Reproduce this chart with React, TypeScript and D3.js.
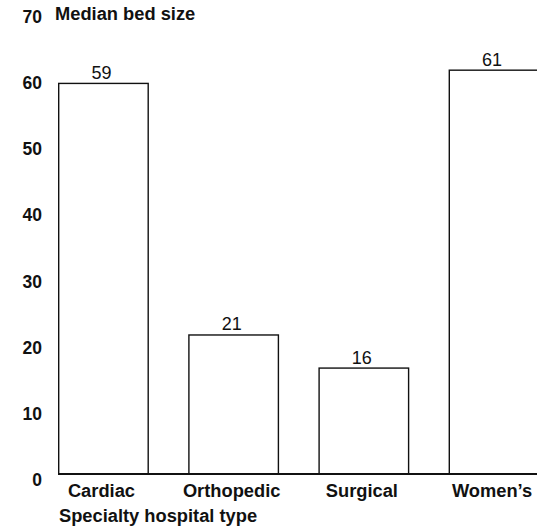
import React, { useEffect, useRef } from 'react';
import * as d3 from 'd3';

// Chart data
const categories = ['Cardiac', 'Orthopedic', 'Surgical', 'Women\u2019s'];
const bedSizes = [59, 21, 16, 61];
const yTicks = [0, 10, 20, 30, 40, 50, 60, 70];

const App: React.FC = () => {
  const svgRef = useRef<SVGSVGElement | null>(null);

  useEffect(() => {
    const svg = d3.select(svgRef.current);
    svg.selectAll('*').remove();

    const width = 537;
    const height = 529;
    const font = 'Liberation Sans, Arial, Helvetica, sans-serif';

    // band scale for the four hospital types
    const x = d3
      .scaleBand<string>()
      .domain(categories)
      .range([58.7, 538.8])
      .paddingInner(0.3126)
      .paddingOuter(0);

    const y = d3.scaleLinear().domain([0, 70]).range([474, 10.6]);

    svg.attr('width', width).attr('height', height);

    // y tick labels (no axis line)
    svg
      .append('g')
      .selectAll('text')
      .data(yTicks)
      .join('text')
      .attr('x', 42)
      .attr('y', d => y(d) + 6)
      .attr('dy', '0.35em')
      .attr('text-anchor', 'end')
      .attr('font-family', font)
      .attr('font-weight', 'bold')
      .attr('font-size', 17.5)
      .attr('fill', '#111')
      .text(d => d);

    // bars
    const data = categories.map((c, i) => ({ c, v: bedSizes[i] }));
    svg
      .append('g')
      .selectAll('rect')
      .data(data)
      .join('rect')
      .attr('x', d => x(d.c) as number)
      .attr('y', d => y(d.v))
      .attr('width', x.bandwidth())
      .attr('height', d => y(0) - y(d.v))
      .attr('fill', 'white')
      .attr('stroke', '#111')
      .attr('stroke-width', 1.4);

    // value labels above bars
    svg
      .append('g')
      .selectAll('text')
      .data(data)
      .join('text')
      .attr('x', d => (x(d.c) as number) + x.bandwidth() / 2 - 2)
      .attr('y', d => y(d.v) - 4.5)
      .attr('text-anchor', 'middle')
      .attr('font-family', font)
      .attr('font-size', 18)
      .attr('fill', '#111')
      .text(d => d.v);

    // baseline
    svg
      .append('line')
      .attr('x1', 58)
      .attr('x2', width)
      .attr('y1', y(0))
      .attr('y2', y(0))
      .attr('stroke', '#111')
      .attr('stroke-width', 2);

    // category labels
    svg
      .append('g')
      .selectAll('text')
      .data(categories)
      .join('text')
      .attr('x', d => (x(d) as number) + x.bandwidth() / 2 - 2)
      .attr('y', 497)
      .attr('text-anchor', 'middle')
      .attr('font-family', font)
      .attr('font-weight', 'bold')
      .attr('font-size', 18.3)
      .attr('fill', '#111')
      .text(d => d);

    // axis titles
    svg
      .append('text')
      .attr('x', 55)
      .attr('y', 20)
      .attr('font-family', font)
      .attr('font-weight', 'bold')
      .attr('font-size', 18.3)
      .attr('fill', '#111')
      .text('Median bed size');

    svg
      .append('text')
      .attr('x', 59)
      .attr('y', 522)
      .attr('font-family', font)
      .attr('font-weight', 'bold')
      .attr('font-size', 18.3)
      .attr('fill', '#111')
      .text('Specialty hospital type');
  }, []);

  return (
    <svg
      ref={svgRef}
      style={{ position: 'absolute', left: 0, top: 0, background: 'white' }}
    ></svg>
  );
};

export default App;
